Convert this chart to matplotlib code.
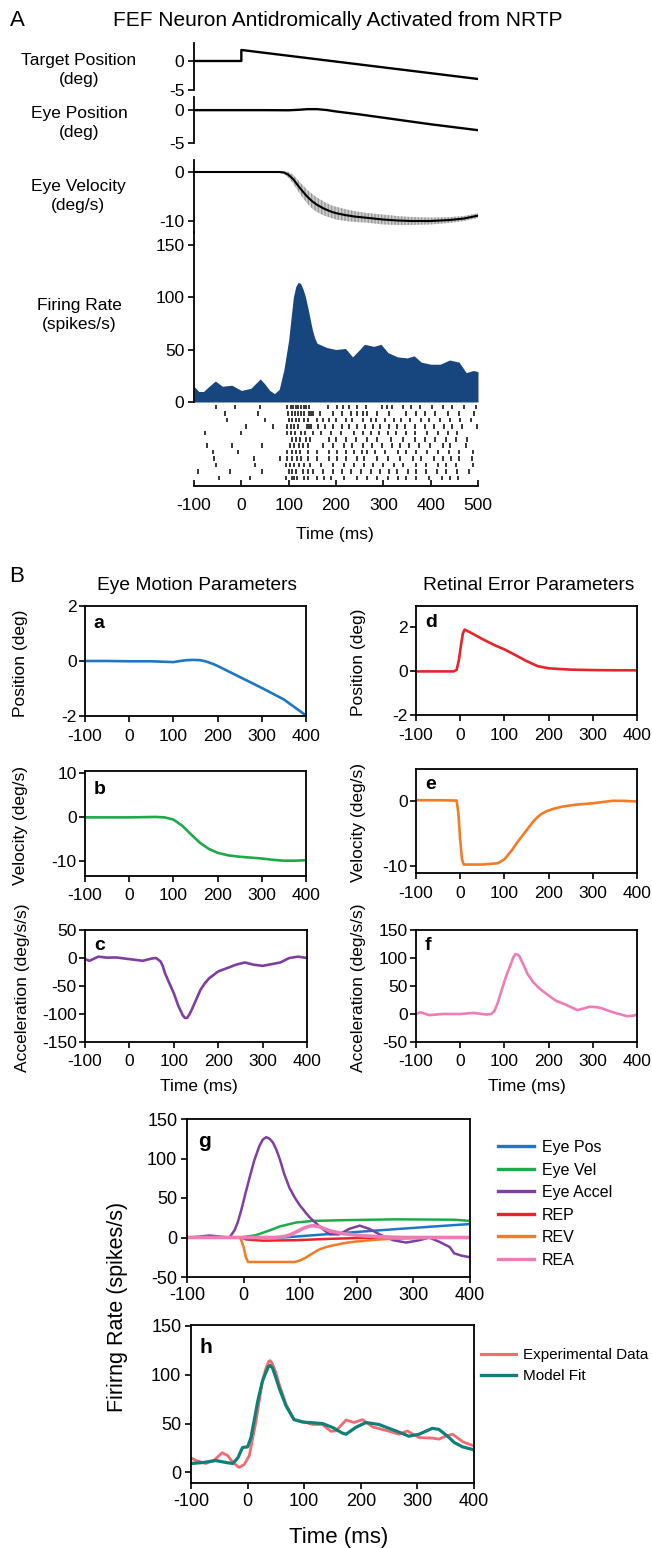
import numpy as np
import matplotlib.pyplot as plt
from matplotlib.lines import Line2D

W, H = 652, 1548
plt.rcParams['font.family'] = ['Liberation Sans', 'DejaVu Sans']
plt.rcParams['axes.unicode_minus'] = False

# ---- panel A data ----
target_t = [-100, 0, 0, 500]
target_pos = [0, 0, 1.9, -3.1]

eye_t = [-100, 0, 50, 100, 120, 140, 160, 180, 200, 250, 300, 350, 400, 450, 500]
eye_pos = [0, 0, 0, -0.02, 0.05, 0.15, 0.15, 0.02, -0.2, -0.65, -1.15, -1.65, -2.15, -2.6, -3.05]

vel_t = [-100, 0, 50, 80, 90, 100, 110, 120, 130, 140, 150, 160, 175, 190, 200, 220,
         240, 260, 280, 300, 330, 360, 400, 440, 470, 500]
vel = [0, 0, 0, 0, -0.1, -0.6, -1.5, -2.8, -4.0, -5.1, -6.0, -6.7, -7.5, -8.1, -8.4, -8.8,
       -9.1, -9.3, -9.5, -9.7, -9.9, -10.0, -10.0, -9.8, -9.5, -8.9]
vel_sd = [0.1, 0.1, 0.1, 0.15, 0.3, 0.6, 0.9, 1.1, 1.3, 1.4, 1.5, 1.5, 1.4, 1.3, 1.3, 1.2,
          1.1, 1.0, 1.0, 1.0, 0.9, 0.8, 0.7, 0.6, 0.5, 0.5]

fr_t = [-100, -90, -80, -68, -55, -40, -20, 0, 20, 40, 50, 60, 70, 80, 90, 100, 105, 110,
        115, 120, 125, 130, 135, 140, 145, 150, 155, 160, 170, 180, 200, 220, 235, 250, 260,
        280, 295, 310, 330, 350, 365, 380, 400, 420, 440, 460, 475, 490, 500]
fr = [15, 10, 10, 15, 20, 15, 16, 11, 13, 22, 17, 11, 8, 12, 31, 59, 80, 100,
      110, 114, 113, 108, 101, 91, 80, 69, 61, 56, 54, 52, 50, 51, 43, 50, 55,
      53, 55, 47, 43, 42, 44, 38, 36, 36, 40, 38, 28, 30, 29]

spikes = [
    [-54, -13, 39, 97, 104, 109, 115, 120, 126, 132, 137, 142, 184, 203, 215, 228, 244, 263, 297, 307, 318, 342, 359, 378, 403, 426, 445, 470, 496],
    [-35, 36, 99, 106, 113, 120, 126, 133, 144, 148, 152, 166, 194, 212, 231, 245, 256, 265, 287, 313, 348, 370, 388, 410, 437, 459, 491],
    [-30, 49, 101, 108, 115, 122, 133, 141, 159, 173, 185, 199, 221, 234, 256, 274, 285, 304, 322, 338, 357, 379, 397, 419, 441, 463, 485],
    [9, 67, 96, 104, 111, 120, 138, 142, 147, 161, 177, 194, 212, 228, 245, 261, 278, 293, 311, 329, 346, 366, 388, 406, 428, 445, 467, 498],
    [-76, 0, 97, 105, 113, 126, 135, 152, 168, 190, 210, 238, 256, 274, 291, 309, 326, 348, 367, 392, 415, 437, 456],
    [106, 115, 124, 137, 146, 185, 201, 221, 243, 265, 287, 316, 341, 367, 388, 410, 432, 454, 476],
    [-73, -19, 44, 102, 111, 122, 131, 141, 172, 194, 216, 234, 256, 275, 298, 318, 335, 355, 375, 399, 425, 441, 474],
    [-59, -6, 97, 106, 115, 124, 141, 159, 185, 203, 222, 237, 254, 265, 282, 304, 331, 348, 369, 392, 415, 439, 459, 489],
    [-57, 27, 82, 97, 106, 117, 126, 141, 159, 185, 203, 221, 244, 260, 287, 309, 335, 362, 379, 406, 425, 443, 459, 488],
    [-54, 29, 94, 102, 111, 122, 133, 146, 168, 194, 216, 238, 260, 278, 300, 322, 342, 369, 390, 415, 432, 454, 489],
    [-91, -23, 43, 100, 106, 115, 131, 141, 152, 172, 194, 212, 231, 252, 274, 293, 311, 329, 353, 370, 391, 413, 432, 455, 481],
    [-48, 18, 94, 106, 111, 117, 133, 140, 159, 175, 190, 216, 245, 265, 287, 309, 331, 348, 370, 396, 423, 441, 457],
]

# ---- panel B data ----
a_t = [-100, -50, 0, 50, 100, 115, 130, 145, 160, 170, 180, 190, 200, 250, 300, 350, 400]
a_pos = [0.0, 0.0, -0.01, -0.01, -0.04, 0.0, 0.03, 0.04, 0.03, 0.0, -0.05, -0.11, -0.18,
         -0.58, -0.98, -1.4, -1.98]

b_t = [-100, 0, 60, 80, 100, 120, 140, 160, 180, 200, 225, 250, 275, 300, 325, 350, 375, 400]
b_vel = [-0.1, -0.1, 0, -0.1, -0.6, -2.0, -4.0, -5.9, -7.3, -8.2, -8.8, -9.1, -9.3, -9.5, -9.8, -10.0, -10.0, -9.9]

c_t = [-100, -90, -70, -50, -30, 0, 30, 50, 60, 70, 75, 80, 90, 100, 110, 120, 125, 130, 135,
       140, 150, 160, 170, 180, 200, 220, 240, 260, 280, 300, 320, 340, 360, 380, 400]
c_acc = [-2, -5, 2.4, 0.6, 1, -2, -5, -1, 0, -6, -14, -27, -45, -63, -85, -102, -107, -107, -101,
         -93, -75, -57, -45, -36, -24, -18, -12, -8, -12, -14, -11, -8, 0, 2.4, 0]

d_t = [-100, -50, -15, -8, -3, 2, 6, 10, 20, 50, 80, 100, 125, 150, 175, 200, 250, 300, 350, 400]
d_pos = [-0.02, -0.02, -0.02, 0.05, 0.5, 1.2, 1.7, 1.88, 1.78, 1.45, 1.15, 0.98, 0.72, 0.45,
         0.22, 0.12, 0.06, 0.04, 0.03, 0.03]

e_t = [-100, -50, -8, -4, 0, 4, 8, 12, 50, 85, 100, 118, 130, 146, 165, 175, 184, 195, 210,
       230, 260, 296, 320, 344, 370, 400]
e_vel = [0.1, 0.1, 0.05, -2, -6, -9, -9.8, -9.8, -9.8, -9.6, -9.0, -7.5, -6.3, -4.9, -3.2,
         -2.5, -2.0, -1.6, -1.25, -0.9, -0.6, -0.4, -0.2, 0, 0, -0.1]

f_t = [-100, -90, -70, -40, 0, 30, 60, 70, 77, 82, 87, 96, 105, 115, 120, 125, 130, 134, 143,
       152, 165, 180, 200, 218, 235, 246, 265, 280, 293, 310, 321, 335, 350, 364, 378, 392, 400]
f_acc = [0, 3, -2, 0, 0, 2, -1, 0, 5, 14, 25, 48, 70, 90, 101, 107, 106, 103, 88,
         72, 57, 45, 33, 23, 18, 14, 7, 10, 13, 12, 10, 6, 2, -1, -4, -3, -1]

# ---- panel g data ----
g_pos_t = [-100, 70, 181, 269, 372, 400]
g_pos = [0, 0, 6, 10.6, 15.7, 17]
g_vel_t = [-100, -5, 22, 46, 64, 93, 122, 181, 269, 372, 400]
g_vel = [0, 0, 3, 9, 14, 19, 21, 22, 23, 22.5, 21]
g_acc_t = [-100, -80, -60, -40, -25, -16, -10, -4, 3, 11, 19, 28, 34, 40, 46, 52, 58, 64, 72,
           81, 90, 99, 116, 134, 152, 169, 187, 205, 222, 240, 264, 287, 311, 328, 346, 364,
           372, 385, 400]
g_acc = [0, 1, 2.5, 1, 0, 9, 20, 35, 55, 77, 98, 116, 124, 127, 125, 120, 111, 99, 80,
         63, 51, 41, 26, 14, 4, 4, 11, 15, 11, 4, -3.4, -6.4, -3.4, 0, -5.5, -12,
         -20, -23, -25]
g_rep_t = [-100, -5, 5, 34, 93, 152, 211, 260, 400]
g_rep = [0, 0, -2.5, -4, -3.4, -1.7, -0.5, 0, 0]
g_rev_t = [-100, -6, 0, 4, 8, 90, 100, 111, 122, 134, 146, 158, 175, 193, 215, 240, 270,
           299, 340, 400]
g_rev = [0, 0, -12, -25, -31, -31, -29, -25, -20, -15, -12, -10, -7.5, -5.5, -4, -2.5, -1.5,
         -1, -0.3, 0]
g_rea_t = [-100, 55, 70, 81, 93, 105, 115, 122, 134, 152, 175, 205, 240, 280, 400]
g_rea = [0, 0, 1, 3, 7, 11.5, 14, 15, 13.6, 8.5, 5, 2.5, 1, 0, 0]

# ---- panel h data ----
h_t = [-100, -91, -74, -59, -45, -35, -26, -15, -6, 3, 15, 26, 32, 37, 40, 44, 50, 56, 68, 82,
       97, 115, 132, 147, 156, 174, 188, 203, 221, 244, 268, 282, 303, 326, 338, 350, 362, 381, 400]
h_exp = [14.6, 12, 9, 12.5, 20, 17, 10, 5, 8, 17, 52.5, 93, 106, 113.5, 114.5, 111, 102, 90, 69.5, 54,
         52, 49, 49, 42, 42.4, 53.6, 51, 54, 46.4, 43, 39, 42.4, 35.6, 35, 34, 37, 39, 31, 27]
hm_t = [-100, -79, -56, -38, -26, -17, -9, 0, 6, 18, 26, 32, 37, 40, 44, 50, 56, 68, 82, 97,
        132, 150, 168, 174, 191, 209, 232, 262, 285, 303, 326, 338, 356, 365, 380, 400]
h_model = [9, 10, 12, 10, 9, 15, 25.4, 26, 35.6, 73, 93, 102, 108.5, 109.5, 107, 97, 86, 68, 54, 51.5,
           50, 46, 40, 39, 46, 51, 49, 42.4, 37, 39, 45, 44, 35.6, 30.5, 26, 23]

g_labels = ['Eye Pos', 'Eye Vel', 'Eye Accel', 'REP', 'REV', 'REA']
g_colors = ['#1f77c4', '#1faa4a', '#7d3fa0', '#e8232b', '#f47a24', '#ee7db6']

fig = plt.figure(figsize=(W / 100, H / 100), dpi=100)


def box(l, t, r, b):
    return fig.add_axes([l / W, 1 - b / H, (r - l) / W, (b - t) / H])


def put(x, y, s, **kw):
    fig.text(x / W, 1 - y / H, s, **kw)


def only_left(ax):
    for s in ['top', 'right', 'bottom']:
        ax.spines[s].set_visible(False)
    ax.spines['left'].set_linewidth(1.3)
    ax.set_xticks([])
    ax.tick_params(axis='y', labelsize=12.5, length=4, width=1.2, pad=3)
    ax.set_xlim(-100, 500)
    ax.patch.set_alpha(0)


# ---------------- Panel A ----------------
put(17, 20, 'A', fontsize=16, ha='center', va='center')
put(338, 20, 'FEF Neuron Antidromically Activated from NRTP', fontsize=15, ha='center', va='center')

ax = box(194, 43, 478, 90)
ax.plot(target_t, target_pos, color='k', lw=1.7)
ax.set_ylim(-5, 3.1)
ax.set_yticks([0, -5])
only_left(ax)
put(79, 70, 'Target Position\n(deg)', fontsize=12.5, ha='center', va='center', linespacing=1.35)

ax = box(194, 97, 478, 143)
ax.plot(eye_t, eye_pos, color='k', lw=1.7)
ax.set_ylim(-5, 2)
ax.set_yticks([0, -5])
only_left(ax)
put(79, 123, 'Eye Position\n(deg)', fontsize=12.5, ha='center', va='center', linespacing=1.35)

ax = box(194, 160, 478, 233)
lo = np.array(vel) - np.array(vel_sd)
hi = np.array(vel) + np.array(vel_sd)
ax.fill_between(vel_t, lo, hi, facecolor='#cccccc', edgecolor='#999999', hatch='|||||', linewidth=0)
ax.plot(vel_t, vel, color='k', lw=1.5)
ax.set_ylim(-12.45, 2.45)
ax.set_yticks([0, -10])
only_left(ax)
put(78, 196, 'Eye Velocity\n(deg/s)', fontsize=12.5, ha='center', va='center', linespacing=1.35)

ax = box(194, 232, 478, 402)
ax.fill_between(fr_t, 0, fr, color='#17467f', lw=0)
ax.set_ylim(0, 162)
ax.set_yticks([0, 50, 100, 150])
only_left(ax)
put(79, 315, 'Firing Rate\n(spikes/s)', fontsize=12.5, ha='center', va='center', linespacing=1.35)

ax = box(194, 402, 478, 486)
ax.eventplot(spikes, lineoffsets=np.arange(1, 13), linelengths=0.7, colors='k', linewidths=1.1)
ax.set_xlim(-100, 500)
ax.set_ylim(13.24, 0.22)
for s in ['top', 'right', 'left']:
    ax.spines[s].set_visible(False)
ax.spines['bottom'].set_linewidth(1.3)
ax.set_yticks([])
ax.set_xticks([-100, 0, 100, 200, 300, 400, 500])
ax.tick_params(axis='x', direction='in', labelsize=12.5, length=4, width=1.2, pad=9)
ax.patch.set_alpha(0)
put(335, 535, 'Time (ms)', fontsize=12.5, ha='center', va='center')

# ---------------- Panel B ----------------
put(17, 576, 'B', fontsize=16, ha='center', va='center')
put(197, 585, 'Eye Motion Parameters', fontsize=13.8, ha='center', va='center')
put(529, 585, 'Retinal Error Parameters', fontsize=13.8, ha='center', va='center')

b_specs = [
    ((85, 606, 306, 716), a_t, a_pos, '#1f77c4', (-2, 2), [-2, 0, 2], 'a', 'Position (deg)', 21, 0.845),
    ((416, 606, 637, 715), d_t, d_pos, '#e8232b', (-2, 2.95), [-2, 0, 2], 'd', 'Position (deg)', 358, 0.845),
    ((85, 771, 306, 876), b_t, b_vel, '#1faa4a', (-13.5, 10.5), [-10, 0, 10], 'b', 'Velocity (deg/s)', 21, 0.82),
    ((416, 769, 637, 873), e_t, e_vel, '#f47a24', (-11.1, 4.9), [-10, 0], 'e', 'Velocity (deg/s)', 358, 0.85),
    ((85, 930, 307, 1042), c_t, c_acc, '#7d3fa0', (-150, 50), [-150, -100, -50, 0, 50], 'c', 'Acceleration (deg/s/s)', 23, 0.866),
    ((416, 930, 637, 1042), f_t, f_acc, '#ee7db6', (-50, 150), [-50, 0, 50, 100, 150], 'f', 'Acceleration (deg/s/s)', 358, 0.866),
]
for (l, t, r, b), xs, ys, col, yl, yt, letter, ylab, ylx, ly in b_specs:
    ax = box(l, t, r, b)
    ax.plot(xs, ys, color=col, lw=1.9)
    ax.set_xlim(-100, 400)
    ax.set_ylim(*yl)
    ax.set_yticks(yt)
    ax.set_xticks([-100, 0, 100, 200, 300, 400])
    for s in ax.spines.values():
        s.set_linewidth(1.3)
    ax.tick_params(labelsize=12.5, length=4, width=1.2)
    ax.tick_params(axis='y', pad=2)
    ax.tick_params(axis='x', pad=5)
    ax.text(0.04, ly, letter, transform=ax.transAxes, fontsize=14, fontweight='bold', ha='left', va='center')
    put(ylx, (t + b) / 2 + 2, ylab, fontsize=12.5, rotation=90, ha='center', va='center')

put(199, 1087, 'Time (ms)', fontsize=12.5, ha='center', va='center')
put(527, 1087, 'Time (ms)', fontsize=12.5, ha='center', va='center')

# ---------------- Panels g and h ----------------
ax = box(187, 1119, 470, 1277)
series = [(g_pos_t, g_pos), (g_vel_t, g_vel), (g_acc_t, g_acc),
          (g_rep_t, g_rep), (g_rev_t, g_rev), (g_rea_t, g_rea)]
for (xs, ys), col, lab in zip(series, g_colors, g_labels):
    lw = 2.6 if lab == 'REA' else 1.8
    ax.plot(xs, ys, color=col, lw=lw, label=lab)
ax.set_xlim(-100, 400)
ax.set_ylim(-50, 150)
ax.set_xticks([-100, 0, 100, 200, 300, 400])
ax.set_yticks([-50, 0, 50, 100, 150])
for s in ax.spines.values():
    s.set_linewidth(1.3)
ax.tick_params(labelsize=13, length=4, width=1.2, pad=3)
ax.text(0.04, 0.855, 'g', transform=ax.transAxes, fontsize=15, fontweight='bold', ha='left', va='center')
fig.legend(handles=[Line2D([], [], color=c, lw=2.4) for c in g_colors], labels=g_labels,
           loc='upper left', bbox_to_anchor=(498 / W, 1 - 1140 / H), frameon=False,
           fontsize=11.5, handlelength=2.25, handletextpad=0.5, labelspacing=0.47,
           borderpad=0, borderaxespad=0)

ax = box(191, 1325, 474, 1483)
ax.plot(h_t, h_exp, color='#f36b70', lw=2.0)
ax.plot(hm_t, h_model, color='#0e8077', lw=2.3)
ax.set_xlim(-100, 400)
ax.set_ylim(-11, 151)
ax.set_xticks([-100, 0, 100, 200, 300, 400])
ax.set_yticks([0, 50, 100, 150])
for s in ax.spines.values():
    s.set_linewidth(1.3)
ax.tick_params(labelsize=13, length=4, width=1.2, pad=3)
ax.text(0.03, 0.86, 'h', transform=ax.transAxes, fontsize=15, fontweight='bold', ha='left', va='center')
fig.legend(handles=[Line2D([], [], color='#f36b70', lw=2.2), Line2D([], [], color='#0e8077', lw=2.4)],
           labels=['Experimental Data', 'Model Fit'],
           loc='upper left', bbox_to_anchor=(481 / W, 1 - 1348 / H), frameon=False,
           fontsize=11, handlelength=2.3, handletextpad=0.45, labelspacing=0.45,
           borderpad=0, borderaxespad=0)

put(117, 1307, 'Firirng Rate (spikes/s)', fontsize=15.5, rotation=90, ha='center', va='center')
put(339, 1537, 'Time (ms)', fontsize=16, ha='center', va='center')

fig.savefig('out.png', dpi=100)
